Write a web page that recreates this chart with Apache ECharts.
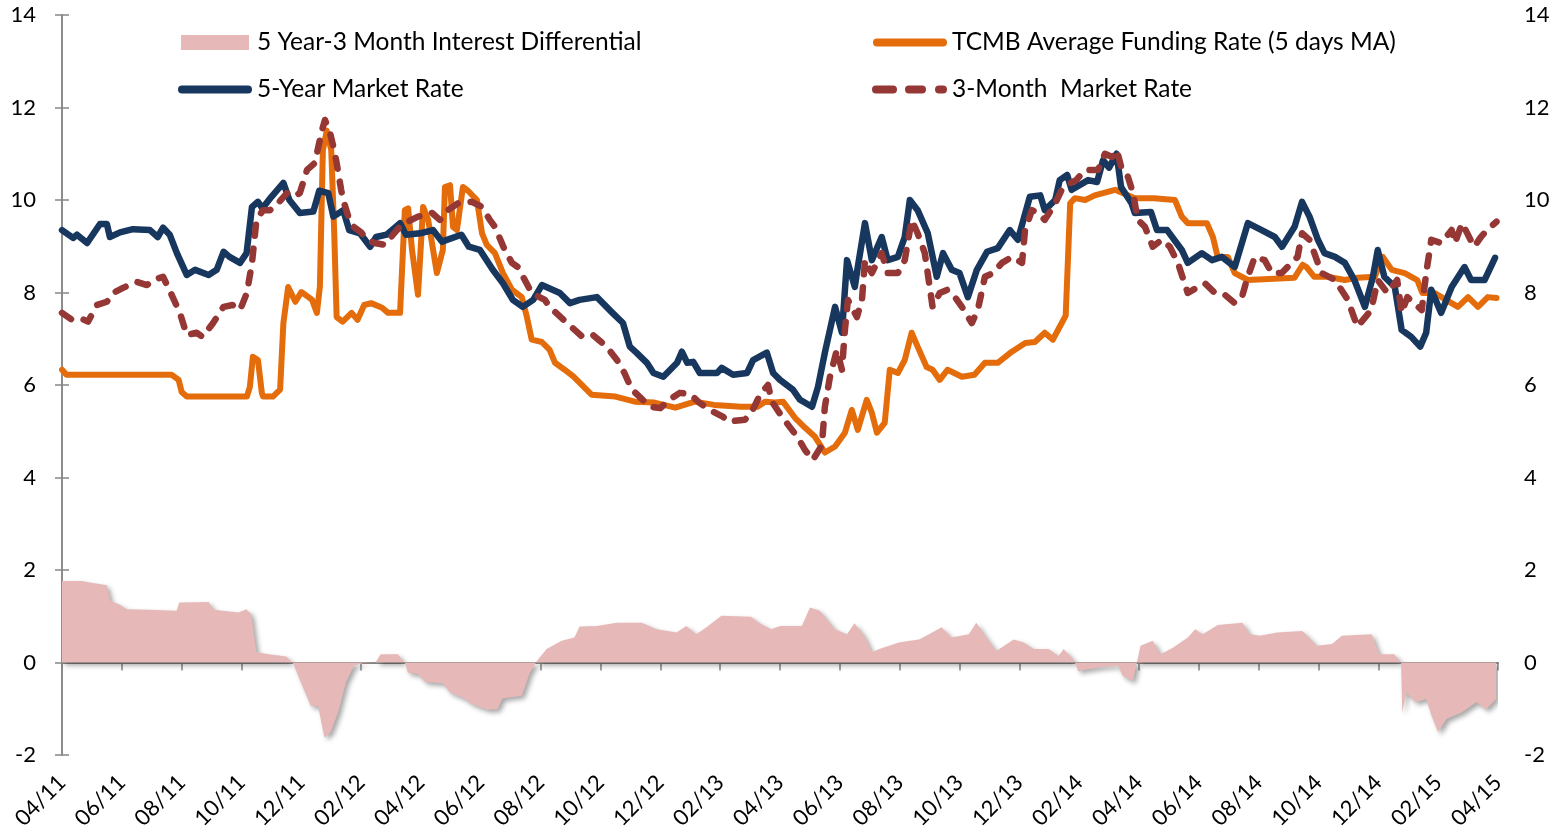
<!DOCTYPE html>
<html>
<head>
<meta charset="utf-8">
<script src="https://cdn.jsdelivr.net/npm/echarts@6/dist/echarts.min.js"></script>
<style>
  html, body { margin: 0; padding: 0; background: #fff; }
  #chart { width: 1559px; height: 839px; }
</style>
</head>
<body>
<div id="chart"></div>
<script>
// x values are months since 04/2011
var tickLabels = ['04/11','06/11','08/11','10/11','12/11','02/12','04/12','06/12','08/12','10/12','12/12','02/13','04/13',
  '06/13','08/13','10/13','12/13','02/14','04/14','06/14','08/14','10/14','12/14','02/15','04/15'];

var seriesNames = ['5 Year-3 Month Interest Differential', 'TCMB Average Funding Rate (5 days MA)',
  '5-Year Market Rate', '3-Month  Market Rate'];

var spread = [[0,1.76],[0.67,1.76],[0.92,1.73],[1.5,1.67],[1.62,1.33],[1.9,1.26],[2.17,1.15],[2.92,1.14],[3.83,1.12],[3.92,1.3],
  [4.9,1.31],[5.07,1.14],[5.9,1.08],[6.16,1.15],[6.33,1.04],[6.5,0.22],[6.9,0.18],[7.5,0.13],[7.74,-0.04],[7.9,-0.29],
  [8.1,-0.61],[8.32,-0.94],[8.56,-0.94],[8.77,-1.62],[8.98,-1.51],[9.23,-1.08],[9.49,-0.43],[9.76,-0.07],[10.07,-0.01],[10.48,0],
  [10.65,0.18],[11.23,0.18],[11.48,-0.04],[11.56,-0.22],[11.9,-0.25],[12.14,-0.42],[12.73,-0.45],[12.97,-0.65],[13.4,-0.76],[13.72,-0.9],
  [14.22,-1.02],[14.56,-1.01],[14.72,-0.78],[15.37,-0.72],[15.64,-0.22],[15.88,0.04],[16.2,0.29],[16.7,0.47],[17.13,0.54],[17.3,0.78],
  [17.88,0.79],[18.55,0.86],[19.38,0.86],[19.88,0.72],[20.54,0.65],[20.87,0.79],[21.2,0.61],[21.54,0.76],[22.04,1.01],[23.03,0.99],
  [23.29,0.86],[23.7,0.72],[24.0,0.79],[24.73,0.79],[25.0,1.19],[25.33,1.12],[25.83,0.72],[26.24,0.61],[26.49,0.85],[26.82,0.58],
  [27.07,0.22],[27.32,0.29],[27.97,0.43],[28.65,0.5],[28.98,0.61],[29.4,0.76],[29.73,0.54],[30.31,0.61],[30.56,0.86],[30.9,0.54],
  [31.23,0.25],[31.81,0.5],[32.15,0.43],[32.48,0.29],[32.98,0.29],[33.31,0.14],[33.48,0.29],[33.8,0.07],[33.97,-0.18],[34.64,-0.11],
  [35.3,-0.07],[35.46,-0.29],[35.8,-0.4],[36.05,0.36],[36.46,0.47],[36.72,0.18],[37.13,0.32],[37.63,0.54],[37.88,0.72],[38.13,0.61],
  [38.63,0.81],[39.46,0.86],[39.7,0.61],[40.04,0.58],[40.62,0.65],[41.46,0.68],[41.95,0.36],[42.45,0.4],[42.78,0.58],[43.78,0.61],
  [44.03,0.18],[44.53,0.18],[44.76,0],[44.8,-1.08],[44.93,-0.65],[45.25,-0.86],[45.6,-0.79],[45.78,-1.15],[46.0,-1.51],[46.28,-1.22],
  [46.78,-1.08],[47.28,-0.86],[47.61,-1.01],[47.94,-0.79]];

var tcmb = [[0,6.33],[0.15,6.22],[3.67,6.22],[3.9,6.11],[4.0,5.85],[4.17,5.75],[6.18,5.75],[6.28,5.96],[6.38,6.61],[6.55,6.54],
  [6.68,5.83],[6.72,5.75],[7.05,5.75],[7.29,5.9],[7.4,7.34],[7.56,8.12],[7.8,7.8],[8.0,8.01],[8.24,7.9],[8.36,7.84],
  [8.52,7.56],[8.62,8.12],[8.72,11.08],[8.85,11.5],[9.0,11.08],[9.1,9.28],[9.18,7.47],[9.38,7.37],[9.68,7.56],[9.88,7.41],
  [10.1,7.73],[10.33,7.77],[10.7,7.67],[10.9,7.56],[11.3,7.56],[11.46,9.78],[11.57,9.82],[11.7,8.92],[11.9,7.95],[12.07,9.85],
  [12.24,9.57],[12.53,8.42],[12.73,8.92],[12.8,10.28],[12.97,10.32],[13.07,9.42],[13.2,9.35],[13.4,10.28],[13.57,10.2],[13.87,10.0],
  [14.04,9.28],[14.2,9.03],[14.47,8.85],[14.74,8.42],[15.04,8.06],[15.37,7.9],[15.54,7.47],[15.7,6.98],[16.04,6.93],[16.3,6.76],
  [16.48,6.48],[16.8,6.33],[17.1,6.18],[17.7,5.79],[18.5,5.75],[19.15,5.64],[19.8,5.62],[20.5,5.51],[21.15,5.64],[21.8,5.57],
  [22.7,5.53],[23.25,5.53],[23.5,5.64],[23.83,5.62],[24.1,5.64],[24.5,5.29],[24.83,5.08],[25.17,4.88],[25.5,4.54],[25.84,4.67],
  [26.17,4.97],[26.4,5.46],[26.6,5.03],[26.9,5.68],[27.07,5.4],[27.24,4.97],[27.5,5.18],[27.67,6.33],[27.94,6.26],[28.17,6.54],
  [28.4,7.13],[28.6,6.83],[28.9,6.39],[29.1,6.33],[29.34,6.11],[29.6,6.33],[30.08,6.18],[30.5,6.22],[30.85,6.48],[31.28,6.48],
  [31.75,6.72],[32.2,6.91],[32.52,6.93],[32.85,7.13],[33.12,6.98],[33.35,7.26],[33.55,7.5],[33.7,9.93],[33.86,10.04],[34.2,10.0],
  [34.52,10.1],[35.2,10.22],[35.86,10.04],[36.5,10.04],[37.2,10.0],[37.43,9.64],[37.63,9.5],[38.27,9.5],[38.47,9.2],[38.63,8.77],
  [38.97,8.77],[39.2,8.42],[39.64,8.27],[41.2,8.32],[41.47,8.6],[41.6,8.55],[41.86,8.34],[42.3,8.34],[42.88,8.27],[43.3,8.32],
  [43.88,8.34],[44.15,8.77],[44.45,8.49],[44.88,8.42],[45.3,8.27],[45.47,7.99],[45.87,7.99],[46.45,7.77],[46.66,7.69],[47.0,7.9],
  [47.33,7.69],[47.66,7.9],[47.95,7.88]];

var fiveYear = [[0,9.35],[0.37,9.18],[0.5,9.25],[0.84,9.07],[1.27,9.48],[1.5,9.48],[1.6,9.2],[1.94,9.3],[2.37,9.37],[2.94,9.35],
  [3.2,9.2],[3.38,9.4],[3.6,9.25],[3.84,8.85],[4.17,8.38],[4.45,8.49],[4.9,8.38],[5.17,8.49],[5.4,8.88],[5.6,8.77],
  [5.95,8.64],[6.17,8.85],[6.35,9.85],[6.55,9.96],[6.7,9.82],[7.0,10.07],[7.4,10.37],[7.6,10.0],[7.95,9.72],[8.4,9.75],
  [8.6,10.2],[8.9,10.15],[9.07,9.64],[9.4,9.78],[9.6,9.35],[9.96,9.28],[10.3,8.99],[10.5,9.2],[10.85,9.25],[11.3,9.5],
  [11.5,9.25],[11.97,9.28],[12.4,9.35],[12.7,9.1],[13.35,9.25],[13.6,8.99],[13.97,8.92],[14.4,8.49],[14.74,8.2],[15.07,7.84],
  [15.4,7.69],[15.75,7.84],[16.04,8.16],[16.64,7.99],[16.98,7.77],[17.3,7.84],[17.88,7.9],[18.4,7.56],[18.75,7.34],[18.98,6.83],
  [19.2,6.7],[19.55,6.48],[19.77,6.26],[20.1,6.18],[20.56,6.48],[20.72,6.72],[20.9,6.48],[21.1,6.5],[21.32,6.26],[21.9,6.26],
  [22.05,6.37],[22.43,6.22],[22.9,6.26],[23.1,6.54],[23.56,6.7],[23.77,6.26],[24.0,6.11],[24.43,5.9],[24.67,5.68],[25.07,5.53],
  [25.27,5.96],[25.5,6.7],[25.84,7.69],[26.07,7.13],[26.24,8.7],[26.5,8.12],[26.6,8.55],[26.84,9.5],[27.07,8.7],[27.4,9.2],
  [27.6,8.7],[27.94,8.77],[28.17,9.2],[28.34,10.0],[28.6,9.78],[28.94,9.28],[29.24,8.34],[29.45,8.85],[29.74,8.49],[30.0,8.42],
  [30.28,7.9],[30.58,8.49],[30.92,8.88],[31.28,8.96],[31.68,9.35],[31.95,9.14],[32.35,10.07],[32.7,10.1],[32.85,9.78],[33.2,10.0],
  [33.35,10.43],[33.6,10.54],[33.75,10.22],[34.3,10.43],[34.6,10.39],[34.8,10.86],[35.0,10.7],[35.25,11.0],[35.4,10.28],[35.75,9.93],
  [35.86,9.72],[36.4,9.74],[36.6,9.35],[36.94,9.35],[37.43,8.92],[37.63,8.64],[38.1,8.85],[38.44,8.7],[38.77,8.77],[39.2,8.55],
  [39.64,9.5],[40.1,9.35],[40.54,9.2],[40.78,8.99],[41.2,9.42],[41.45,9.96],[41.7,9.64],[41.98,9.14],[42.2,8.85],[42.55,8.77],
  [42.88,8.64],[43.2,8.27],[43.55,7.69],[43.82,8.34],[43.98,8.92],[44.2,8.34],[44.55,8.12],[44.78,7.19],[45.1,7.04],[45.4,6.83],
  [45.6,7.13],[45.77,8.06],[46.1,7.56],[46.45,8.12],[46.88,8.55],[47.1,8.27],[47.55,8.27],[47.9,8.75]];

var threeMonth = [[0,7.56],[0.33,7.41],[0.67,7.43],[0.87,7.37],[1.17,7.73],[1.5,7.8],[1.7,7.99],[2.04,8.1],[2.5,8.23],[2.84,8.16],
  [3.04,8.27],[3.38,8.34],[3.54,8.12],[3.7,7.9],[3.94,7.56],[4.17,7.08],[4.5,7.13],[4.7,7.04],[5.05,7.34],[5.4,7.69],
  [5.7,7.73],[5.95,7.62],[6.18,7.99],[6.35,8.64],[6.5,9.57],[6.72,9.78],[6.95,9.78],[7.22,9.93],[7.52,10.15],[7.72,10.07],
  [7.95,10.15],[8.19,10.65],[8.45,10.8],[8.69,11.51],[8.79,11.73],[8.96,11.45],[9.12,11.02],[9.22,10.65],[9.33,10.22],[9.4,10.0],
  [9.57,9.64],[9.75,9.42],[10.0,9.3],[10.2,9.14],[10.45,9.07],[10.8,9.03],[11.1,9.28],[11.35,9.46],[11.68,9.57],[11.9,9.64],
  [12.37,9.72],[12.63,9.57],[12.9,9.78],[13.24,9.93],[13.7,9.96],[14.04,9.85],[14.3,9.57],[14.47,9.42],[14.8,8.92],[15.04,8.64],
  [15.24,8.55],[15.7,7.99],[16.14,7.84],[16.3,7.69],[16.88,7.34],[17.4,7.04],[17.75,7.08],[18.2,6.83],[18.55,6.54],[18.8,6.26],
  [19.05,5.9],[19.3,5.75],[19.65,5.53],[20.0,5.5],[20.3,5.68],[20.65,5.83],[21.0,5.8],[21.3,5.62],[21.66,5.46],[22.1,5.31],
  [22.26,5.21],[22.83,5.25],[23.06,5.42],[23.33,5.79],[23.6,6.0],[23.73,5.64],[24.07,5.31],[24.4,5.03],[24.6,4.86],[24.83,4.6],
  [25.1,4.38],[25.4,4.7],[25.5,5.53],[25.67,6.18],[25.9,6.76],[26.07,6.33],[26.17,7.19],[26.27,7.84],[26.57,7.47],[26.74,7.84],
  [26.84,8.7],[27.07,8.42],[27.4,8.85],[27.6,8.42],[27.94,8.42],[28.17,8.7],[28.4,9.57],[28.6,9.28],[28.84,8.85],[29.1,7.69],
  [29.34,7.99],[29.6,8.06],[29.85,7.9],[30.08,7.69],[30.41,7.34],[30.61,7.62],[30.85,8.34],[31.12,8.42],[31.42,8.64],[31.75,8.77],
  [32.09,8.64],[32.19,9.35],[32.42,9.78],[32.62,9.72],[32.85,9.57],[33.2,9.93],[33.46,10.28],[33.9,10.43],[34.2,10.65],[34.63,10.65],
  [34.86,11.0],[35.1,10.93],[35.26,11.08],[35.43,10.65],[35.63,10.5],[35.8,10.15],[35.96,9.57],[36.2,9.42],[36.46,8.99],[36.76,9.14],
  [37.03,8.99],[37.3,8.64],[37.63,7.99],[37.97,8.12],[38.2,8.2],[38.54,7.99],[38.87,7.95],[39.2,7.77],[39.44,7.9],[39.6,8.27],
  [39.87,8.77],[40.2,8.7],[40.44,8.42],[40.77,8.42],[41.1,8.64],[41.3,8.77],[41.45,9.28],[41.7,9.14],[42.1,8.42],[42.55,8.27],
  [42.98,7.84],[43.3,7.26],[43.76,7.62],[43.98,8.27],[44.3,7.99],[44.63,8.27],[44.78,7.56],[44.97,7.9],[45.45,7.62],[45.6,8.42],
  [45.77,9.14],[46.1,9.07],[46.45,9.35],[46.56,9.07],[46.8,9.5],[47.2,8.99],[47.43,9.2],[47.63,9.35],[47.95,9.53]];

var myChart = echarts.init(document.getElementById('chart'));

var fontName = 'Lato';
var axisGray = '#868686';

// legend glyphs drawn like the original: thick bar, thick line, dashed line
var iconBar = 'rect';
var iconLine = 'path://M4,0H70A4,4 0 0 1 70,8H4A4,4 0 0 1 4,0Z';
var iconDash = 'path://M4,0H21A4,4 0 0 1 21,8H4A4,4 0 0 1 4,0Z M37,0H50A4,4 0 0 1 50,8H37A4,4 0 0 1 37,0Z M67,0H71A4,4 0 0 1 71,8H67A4,4 0 0 1 67,0Z';

function legendAt(name, left, top, icon, w, h, padLeft) {
  return {
    data: [{ name: name, icon: icon }],
    left: left,
    top: top,
    itemWidth: w,
    itemHeight: h,
    itemGap: 0,
    textStyle: { fontFamily: fontName, fontSize: 24.5, color: '#000', padding: [0, 0, 0, padLeft] }
  };
}

var yAxisBase = {
  type: 'value',
  min: -2,
  max: 14,
  interval: 2,
  splitLine: { show: false },
  axisLine: { show: true, lineStyle: { color: axisGray, width: 1.5 } },
  axisTick: { show: true, length: 7, lineStyle: { color: axisGray, width: 1.5 } },
  axisLabel: { fontFamily: fontName, fontSize: 22, color: '#000', margin: 26 }
};

var option = {
  animation: false,
  backgroundColor: '#fff',
  grid: { left: 62, right: 61, top: 15, bottom: 84, containLabel: false },
  legend: [
    legendAt(seriesNames[0], 176, 25, iconBar, 68, 15, 3),
    legendAt(seriesNames[1], 868, 25, iconLine, 74, 8, 0),
    legendAt(seriesNames[2], 173, 72, iconLine, 74, 8, 0),
    legendAt(seriesNames[3], 867, 72, iconDash, 75, 8, 0)
  ],
  xAxis: [
    {
      type: 'value', min: 0, max: 48, interval: 2,
      axisLine: { onZero: true, lineStyle: { color: axisGray, width: 2 } },
      axisTick: { show: true, length: 8, lineStyle: { color: axisGray, width: 1.5 } },
      axisLabel: { show: false },
      splitLine: { show: false }
    },
    {
      type: 'value', min: 0, max: 48, interval: 2, position: 'bottom',
      axisLine: { show: false, onZero: false },
      axisTick: { show: false },
      splitLine: { show: false },
      axisLabel: {
        rotate: 45, margin: 24, fontFamily: fontName, fontSize: 22, color: '#000',
        formatter: function (v) { return tickLabels[Math.round(v / 2)] || ''; }
      }
    }
  ],
  yAxis: [
    echarts.util.merge({ position: 'left' }, yAxisBase, true),
    echarts.util.merge({ position: 'right' }, yAxisBase, true)
  ],
  series: [
    {
      name: seriesNames[0], type: 'line', data: spread, showSymbol: false, symbol: 'none',
      lineStyle: { width: 0 },
      itemStyle: { color: '#E6B9B8' },
      areaStyle: { color: '#E6B9B8', opacity: 1, shadowColor: 'rgba(0,0,0,0.35)', shadowBlur: 5, shadowOffsetX: 3, shadowOffsetY: 3 },
      z: 1
    },
    {
      name: seriesNames[1], type: 'line', data: tcmb, showSymbol: false, symbol: 'none',
      lineStyle: { color: '#E46C0A', width: 6, cap: 'round', join: 'round' },
      itemStyle: { color: '#E46C0A' }, z: 3
    },
    {
      name: seriesNames[2], type: 'line', data: fiveYear, showSymbol: false, symbol: 'none',
      lineStyle: { color: '#17375E', width: 6.5, cap: 'round', join: 'round' },
      itemStyle: { color: '#17375E' }, z: 4
    },
    {
      name: seriesNames[3], type: 'line', data: threeMonth, showSymbol: false, symbol: 'none',
      lineStyle: { color: '#953735', width: 6.5, type: [11, 13], cap: 'round', join: 'round' },
      itemStyle: { color: '#953735' }, z: 5
    }
  ]
};

myChart.setOption(option);
</script>
</body>
</html>
